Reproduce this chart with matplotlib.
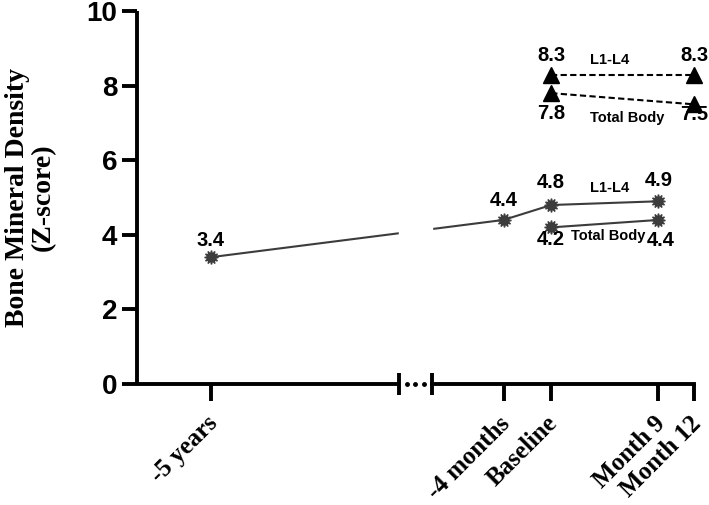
import numpy as np
import matplotlib
matplotlib.use('Agg')
import matplotlib.pyplot as plt
import matplotlib.transforms as mtransforms

# Time points on the x axis
timepoints = ['-5 years', '-4 months', 'Baseline', 'Month 9', 'Month 12']
# where each time point sits on the (broken) x axis, in months-ish units
tick_pos = [-28.6, -4, 0, 9, 12]

# Z-scores, first measurement series (star markers)
early_times = ['-5 years', '-4 months', 'Baseline', 'Month 9']
early_l1l4 = [3.4, 4.4, 4.8, 4.9]
early_tb_times = ['Baseline', 'Month 9']
early_tb = [4.2, 4.4]

# Z-scores, second measurement series (triangles)
late_times = ['Baseline', 'Month 12']
late_l1l4 = [8.3, 8.3]
late_tb = [7.8, 7.5]

pos = dict(zip(timepoints, tick_pos))
x_early = [pos[t] for t in early_times]
x_early_tb = [pos[t] for t in early_tb_times]
x_late = [pos[t] for t in late_times]

break_lo, break_hi = -12.8, -10.0
xmin, xmax = -34.8, 12

fig = plt.figure(figsize=(7.09, 5.05), dpi=100)
ax = fig.add_axes([0.193, 0.2396, 0.786, 0.7384])

star = (12, 1, 0)
grey = '#3c3c3c'
ax.plot(x_early, early_l1l4, color=grey, lw=1.5, marker=star, ms=10,
        mec=grey, mfc=grey, zorder=3, clip_on=False)
ax.plot(x_early_tb, early_tb, color=grey, lw=1.5, marker=star, ms=10,
        mec=grey, mfc=grey, zorder=3, clip_on=False)
ax.plot(x_late, late_l1l4, color='black', lw=1.5, ls=(0, (3, 1.6)), marker='^',
        ms=11, zorder=3, clip_on=False)
ax.plot(x_late, late_tb, color='black', lw=1.5, ls=(0, (3, 1.6)), marker='^',
        ms=11, zorder=3, clip_on=False)

# white gap over the axis break
ax.axvspan(break_lo, break_hi, color='white', zorder=4)

# value labels
lab = dict(fontsize=14.5, fontweight='bold', family='Liberation Sans',
           ha='center', va='center', zorder=6, annotation_clip=False)
for x, y, dx, dy in zip(x_early, early_l1l4, [0, 0, 0, 0], [12, 14, 16.5, 15]):
    ax.annotate(f'{y}', (x, y), xytext=(dx, dy), textcoords='offset points', **lab)
for x, y, dx, dy in zip(x_early_tb, early_tb, [0, 1.5], [-9, -15]):
    ax.annotate(f'{y}', (x, y), xytext=(dx, dy), textcoords='offset points', **lab)
for x, y in zip(x_late, late_l1l4):
    ax.annotate(f'{y}', (x, y), xytext=(0, 14), textcoords='offset points', **lab)
for x, y, dx, dy in zip(x_late, late_tb, [0, 0], [-15, -7]):
    ax.annotate(f'{y}', (x, y), xytext=(dx, dy), textcoords='offset points', **lab)

small = dict(fontsize=10.5, fontweight='bold', family='Liberation Sans',
             ha='center', va='center', zorder=6)
ax.text(4.9, 5.25, 'L1-L4', **small)
ax.text(4.8, 3.97, 'Total Body', **small)
ax.text(4.9, 8.69, 'L1-L4', **small)
ax.text(6.4, 7.13, 'Total Body', **small)

ax.set_xlim(xmin, xmax)
ax.set_ylim(0, 10)

# axes styling
for s in ['top', 'right', 'bottom']:
    ax.spines[s].set_visible(False)
ax.spines['left'].set_linewidth(2.8)
ax.spines['left'].set_capstyle('butt')

# broken x axis drawn by hand
axis_kw = dict(color='black', lw=2.8, clip_on=False, zorder=5)
ax.plot([xmin, break_lo], [0, 0], solid_capstyle='butt', **axis_kw)
ax.plot([break_hi, xmax], [0, 0], solid_capstyle='projecting', **axis_kw)
ax.plot([break_lo, break_lo], [-0.3, 0.3], solid_capstyle='butt', **axis_kw)
ax.plot([break_hi, break_hi], [-0.3, 0.3], solid_capstyle='butt', **axis_kw)
ax.plot(np.linspace(break_lo, break_hi, 5)[1:-1], [0, 0, 0], ls='none',
        marker='o', ms=2.5, color='black', clip_on=False, zorder=5)

ax.set_yticks([0, 2, 4, 6, 8, 10])
ax.tick_params(axis='y', length=11, width=2.8, pad=3, labelsize=20)
for t in ax.get_yticklabels():
    t.set_fontweight('bold')
    t.set_family('Liberation Sans')

ax.set_xticks(tick_pos)
ax.set_xticklabels(timepoints, rotation=45, ha='right', va='top',
                   rotation_mode='anchor', fontsize=18, fontweight='bold',
                   family='Liberation Serif')
ax.tick_params(axis='x', length=12, width=2.8, pad=8, bottom=True)
shift = mtransforms.ScaledTranslation(-0.05, 0, fig.dpi_scale_trans)
for t in ax.get_xticklabels():
    t.set_transform(t.get_transform() + shift)

ax.set_ylabel('Bone Mineral Density\n(Z-score)', fontsize=20, fontweight='bold',
              family='Liberation Serif', labelpad=22, linespacing=1.05)

fig.savefig('out.png', dpi=100)
